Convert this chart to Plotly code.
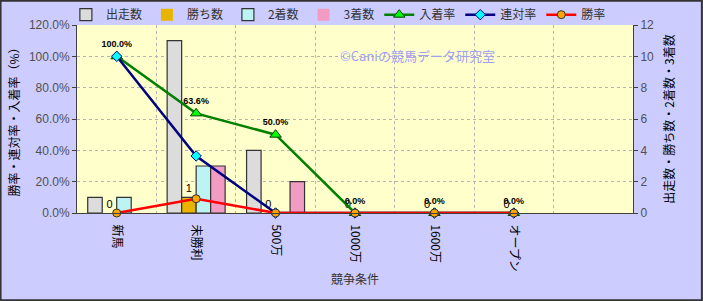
import plotly.graph_objects as go

categories = ["新馬", "未勝利", "500万", "1000万", "1600万", "オープン"]
starts = [1, 11, 4, 0, 0, 0]
wins = [0, 1, 0, 0, 0, 0]
seconds = [1, 3, 0, 0, 0, 0]
thirds = [0, 3, 2, 0, 0, 0]
place_rate = [1.0, 0.636, 0.5, 0.0, 0.0, 0.0]
quinella_rate = [1.0, 0.364, 0.0, 0.0, 0.0, 0.0]
win_rate = [0.0, 0.091, 0.0, 0.0, 0.0, 0.0]

xs = list(range(len(categories)))
FONT = "Noto Sans CJK JP, Noto Sans, sans-serif"
LABEL_FONT = "Liberation Sans, Arial, sans-serif"

fig = go.Figure()

bar_specs = [
    ("出走数", starts, "#DCDCDC"),
    ("勝ち数", wins, "#E8B400"),
    ("2着数", seconds, "#BDF3F3"),
    ("3着数", thirds, "#F29CC4"),
]
for name, vals, col in bar_specs:
    kw = {}
    if name == "勝ち数":
        kw = dict(text=[str(v) for v in vals], textposition="outside",
                  textfont=dict(family=LABEL_FONT, size=11, color="#000000"),
                  cliponaxis=False)
    fig.add_trace(go.Bar(
        x=xs, y=vals, name=name, yaxis="y",
        marker=dict(color=col, line=dict(color="#333333",
                                         width=[1.2 if v > 0 else 0 for v in vals])),
        **kw))

fig.add_trace(go.Scatter(
    x=xs, y=place_rate, name="入着率", yaxis="y2", mode="lines+markers+text",
    line=dict(color="#008000", width=2.5),
    marker=dict(symbol="triangle-up", size=10, color="#00FF00",
                line=dict(color="#004000", width=1)),
    text=[f"{v*100:.1f}%" for v in place_rate], textposition="top center",
    textfont=dict(family=LABEL_FONT, size=9, color="#000000", weight="bold"),
    cliponaxis=False))
fig.add_trace(go.Scatter(
    x=xs, y=quinella_rate, name="連対率", yaxis="y2", mode="lines+markers",
    line=dict(color="#000080", width=2.5),
    marker=dict(symbol="diamond", size=8, color="#00FFFF",
                line=dict(color="#000080", width=1)),
    cliponaxis=False))
fig.add_trace(go.Scatter(
    x=xs, y=win_rate, name="勝率", yaxis="y2", mode="lines+markers",
    line=dict(color="#FF0000", width=2.5),
    marker=dict(symbol="circle", size=8, color="#FFA500",
                line=dict(color="#333333", width=1)),
    cliponaxis=False))

fig.add_annotation(
    x=0.755, y=0.899, xref="paper", yref="paper",
    text="©Caniの競馬データ研究室", showarrow=False,
    font=dict(family=FONT, size=13, color="#A0A0F0"))

W, H = 703, 301
L, R, T, B = 77, 70, 25, 88
pw, ph = W - L - R, H - T - B
fig.add_shape(type="rect", xref="paper", yref="paper",
              x0=-L / pw + 0.001, x1=(pw + R) / pw - 0.002,
              y0=-B / ph + 0.004, y1=(ph + T) / ph - 0.004,
              line=dict(color="#333333", width=2), layer="above")

GRID = "#B4B4B4"
fig.update_layout(
    width=W, height=H,
    margin=dict(l=L, r=R, t=T, b=B, pad=0, autoexpand=False),
    paper_bgcolor="#CCCCFF", plot_bgcolor="#FFFFCC",
    font=dict(family=FONT, size=12, color="#333333"),
    barmode="group", bargap=0.27, bargroupgap=0,
    showlegend=True,
    legend=dict(orientation="h", x=-0.02, xanchor="left", y=1.055, yanchor="middle",
                font=dict(family=FONT, size=12, color="#333333"),
                bgcolor="rgba(0,0,0,0)", itemwidth=30, tracegroupgap=0),
    xaxis=dict(
        range=[-0.5, 6.5], tickmode="array", tickvals=xs, ticktext=categories,
        tickangle=90, showgrid=False, zeroline=False, automargin=False,
        tickfont=dict(family=FONT, size=12, color="#000000"),
        showline=True, linecolor="#404040", linewidth=1,
        ticks="", ticklabelstandoff=8,
        minor=dict(tick0=0.5, dtick=1, showgrid=True,
                   gridcolor=GRID, griddash="dot", gridwidth=1, ticks=""),
        title=dict(text="競争条件", font=dict(family=FONT, size=12, color="#333333"),
                   standoff=4),
    ),
    yaxis=dict(
        side="right", range=[0, 12], dtick=2, showgrid=True, automargin=False,
        gridcolor=GRID, griddash="dot", gridwidth=1, zeroline=False,
        showline=True, linecolor="#404040", linewidth=1, ticks="outside",
        ticklen=4, tickcolor="#404040",
        tickfont=dict(family=LABEL_FONT, size=12, color="#505050"),
        title=dict(text="出走数・勝ち数・2着数・3着数",
                   font=dict(family=FONT, size=12, color="#000000"), standoff=12),
    ),
    yaxis2=dict(
        side="left", overlaying="y", range=[0, 1.2], dtick=0.2, tickformat=".1%",
        showgrid=False, zeroline=False, automargin=False,
        showline=True, linecolor="#404040", linewidth=1, ticks="outside",
        ticklen=4, tickcolor="#404040",
        tickfont=dict(family=LABEL_FONT, size=12, color="#505050"),
        title=dict(text="勝率・連対率・入着率（%）",
                   font=dict(family=FONT, size=12, color="#000000"), standoff=6),
    ),
)

fig.write_html("out.html")
